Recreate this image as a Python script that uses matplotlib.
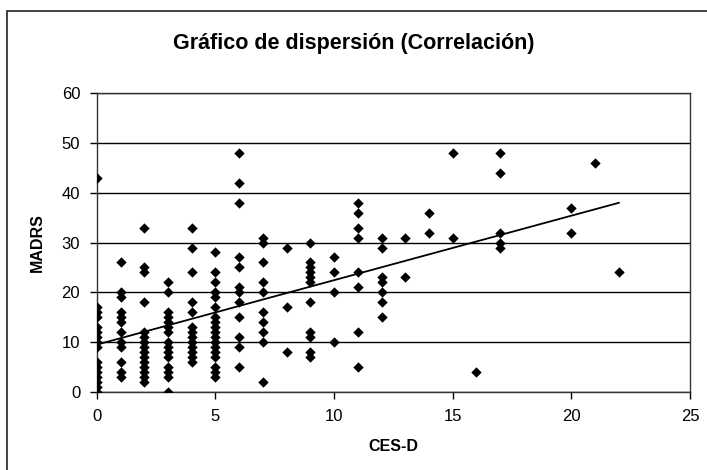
"""Scatter of MADRS vs CES-D scores with a linear trend line."""

import matplotlib
matplotlib.use("Agg")
import matplotlib.pyplot as plt
import numpy as np
from matplotlib.patches import Rectangle

plt.rcParams["font.family"] = ["Liberation Sans", "DejaVu Sans"]

title = "Gráfico de dispersión (Correlación)"
x_label = "CES-D"
y_label = "MADRS"

cesd_levels = [0, 1, 2, 3, 4, 5, 6, 7, 8, 9, 10, 11, 12, 13, 14, 15, 16, 17,
               20, 21, 22]
madrs_groups = [
    [0, 1, 2, 3, 4, 5, 6, 9, 10, 11, 12, 13, 15, 16, 17, 43],
    [3, 4, 6, 9, 10, 12, 14, 15, 16, 19, 20, 26],
    [2, 3, 4, 5, 6, 7, 8, 9, 10, 11, 12, 18, 24, 25, 33],
    [0, 3, 4, 5, 7, 8, 9, 10, 12, 13, 14, 15, 16, 20, 22],
    [6, 7, 8, 9, 10, 11, 12, 13, 16, 18, 24, 29, 33],
    [3, 4, 5, 7, 8, 9, 10, 11, 12, 13, 14, 15, 17, 19, 20, 22, 24, 28],
    [5, 9, 11, 15, 18, 20, 21, 25, 27, 38, 42, 48],
    [2, 10, 12, 14, 16, 20, 22, 26, 30, 31],
    [8, 17, 29],
    [7, 8, 11, 12, 18, 22, 23, 24, 25, 26, 30],
    [10, 20, 24, 27],
    [5, 12, 21, 24, 31, 33, 36, 38],
    [15, 18, 20, 22, 23, 29, 31],
    [23, 31],
    [32, 36],
    [31, 48],
    [4],
    [29, 30, 32, 44, 48],
    [32, 37],
    [46],
    [24],
]

x_ticks = [0, 5, 10, 15, 20, 25]
y_ticks = [0, 10, 20, 30, 40, 50, 60]

cesd = np.concatenate([[level] * len(group)
                       for level, group in zip(cesd_levels, madrs_groups)])
madrs = np.concatenate(madrs_groups)

fig = plt.figure(figsize=(7.07, 4.70), dpi=100)
fig.patches.append(Rectangle((0.010, -0.01), 0.995, 0.987,
                             transform=fig.transFigure, fill=False,
                             edgecolor="#222222", linewidth=1.2))

ax = fig.add_axes([0.137, 0.166, 0.839, 0.636])

ax.scatter(cesd, madrs, marker="D", s=28, color="black", zorder=3,
           linewidths=0)

slope, intercept = np.polyfit(cesd, madrs, 1)
fit_x = np.array([cesd.min(), cesd.max()])
ax.plot(fit_x, intercept + slope * fit_x, color="black", linewidth=1.3,
        zorder=2)

ax.set_xlim(0, 25)
ax.set_ylim(0, 60)
ax.set_xticks(x_ticks)
ax.set_yticks(y_ticks)
ax.yaxis.grid(True, color="black", linewidth=1.0)
ax.set_axisbelow(True)
for spine in ax.spines.values():
    spine.set_color("#333333")
    spine.set_linewidth(1.0)
ax.tick_params(axis="both", direction="out", length=5, width=1,
               labelsize=12, color="black", pad=7)

ax.set_xlabel(x_label, fontsize=11.5, fontweight="bold", labelpad=11)
ax.set_ylabel(y_label, fontsize=11.5, fontweight="bold", labelpad=12)
fig.text(0.5, 0.907, title, ha="center", va="center", fontsize=15.5,
         fontweight="bold")

fig.savefig("out.png", dpi=100)
